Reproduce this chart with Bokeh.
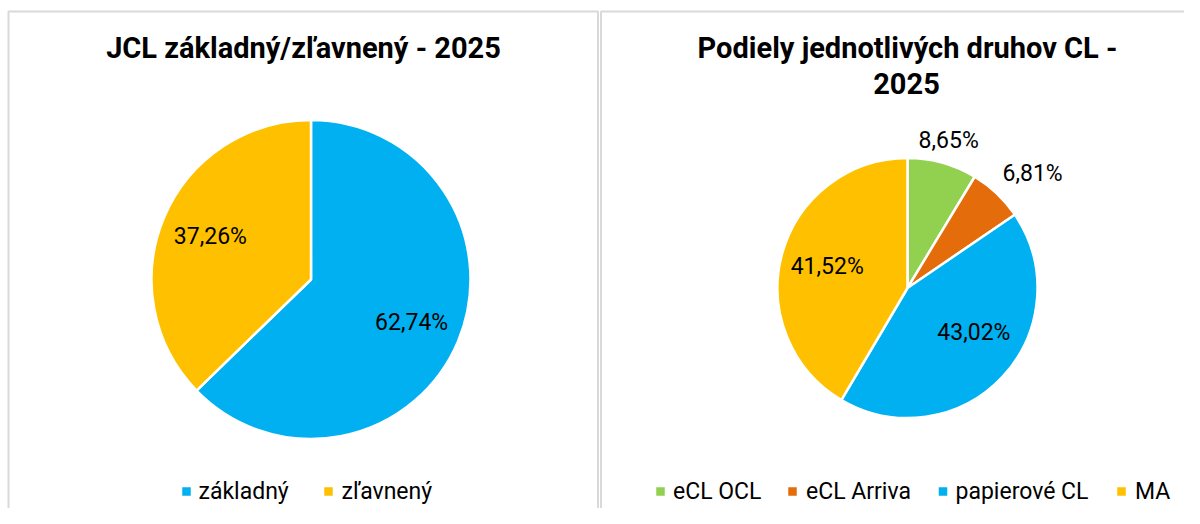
import math
from bokeh.plotting import figure
from bokeh.models import ColumnDataSource, Range1d
from bokeh.core.properties import value
from bokeh.embed import file_html
from bokeh.resources import INLINE

# ---------------- data ----------------
left_title = "JCL základný/zľavnený - 2025"
left_categories = ["základný", "zľavnený"]
left_values = [62.74, 37.26]
left_colors = ["#00B0F0", "#FFC000"]

right_title_lines = ["Podiely jednotlivých druhov CL -", "2025"]
right_categories = ["eCL OCL", "eCL Arriva", "papierové CL", "MA"]
right_values = [8.65, 6.81, 43.02, 41.52]
right_colors = ["#92D050", "#E46C0A", "#00B0F0", "#FFC000"]

# ---------------- layout ----------------
W, H = 1184, 508
FONT = "Roboto"


def X(px):
    return px


def Y(py):
    return H - py


p = figure(width=W, height=H, x_range=Range1d(0, W), y_range=Range1d(0, H),
           x_axis_type=None, y_axis_type=None, toolbar_location=None,
           output_backend="svg", min_border=0)
p.grid.visible = False
p.outline_line_color = None
p.background_fill_color = "white"
p.border_fill_color = "white"

# panel borders
p.quad(left=[X(8), X(600.5)], right=[X(597.5), X(1400)],
       top=[Y(11), Y(11)], bottom=[Y(700), Y(700)],
       fill_color=None, line_color="#d9d9d9", line_width=2)


def fmt(v):
    return ("%.2f" % v).replace(".", ",") + "%"


def draw_pie(values, colors, cx, cy, r, label_rf, nudges):
    total = float(sum(values))
    fr = [v / total for v in values]
    cum = [0.0]
    for f in fr:
        cum.append(cum[-1] + f)
    start = [math.pi / 2 - 2 * math.pi * c for c in cum[:-1]]
    end = [math.pi / 2 - 2 * math.pi * c for c in cum[1:]]
    src = ColumnDataSource(dict(start=start, end=end, color=colors))
    p.wedge(x=X(cx), y=Y(cy), radius=r, start_angle="start", end_angle="end",
            direction="clock", fill_color="color", line_color="white",
            line_width=2.5, source=src)
    lx, ly, lt = [], [], []
    for i, v in enumerate(values):
        m = math.pi / 2 - 2 * math.pi * (cum[i] + fr[i] / 2)
        rl = r * label_rf[i]
        lx.append(X(cx) + rl * math.cos(m) + nudges[i][0])
        ly.append(Y(cy) + rl * math.sin(m) - nudges[i][1])
        lt.append(fmt(v))
    p.text(x=lx, y=ly, text=lt, text_align="center", text_baseline="middle",
           text_font=value(FONT), text_font_size="23px", text_color="#000000")


def draw_legend(labels, colors, sq_x, txt_x, y):
    p.scatter(x=[X(s) for s in sq_x], y=[Y(y)] * len(sq_x), marker="square",
              size=8.5, fill_color=colors, line_color=None)
    p.text(x=[X(t) for t in txt_x], y=[Y(y)] * len(txt_x), text=labels,
           text_align="left", text_baseline="middle", text_font=value(FONT),
           text_font_size="23px", text_color="#000000")


# left chart
p.text(x=[X(303)], y=[Y(47)], text=[left_title], text_align="center",
       text_baseline="middle", text_font=value(FONT), text_font_size="29px",
       text_font_style="bold", text_color="#000000")
draw_pie(left_values, left_colors, 310.5, 279, 159.5, [0.685, 0.685],
         [(0, 0), (0, 0)])
draw_legend(left_categories, left_colors, [186, 328], [198, 341], 491)

# right chart
p.text(x=[X(907), X(906)], y=[Y(47), Y(83)], text=right_title_lines,
       text_align="center", text_baseline="middle", text_font=value(FONT),
       text_font_size="29px", text_font_style="bold", text_color="#000000")
draw_pie(right_values, right_colors, 907, 287.5, 130,
         [1.18, 1.30, 0.615, 0.64], [(0, 0), (9, 8), (8, -10), (0, 0)])
draw_legend(right_categories, right_colors, [660, 792, 942.5, 1121],
            [672.5, 805.5, 955, 1134.5], 491)

open("out.html", "w").write(file_html(p, INLINE))
